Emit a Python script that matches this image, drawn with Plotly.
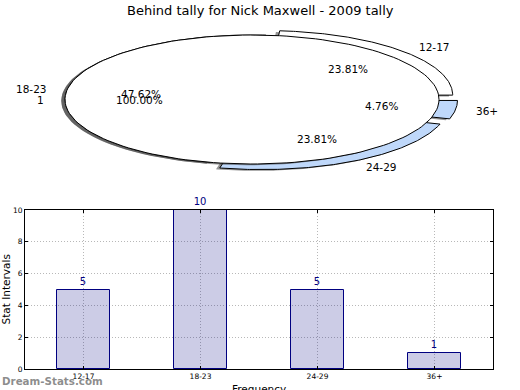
import numpy as np
import plotly.graph_objects as go

# ---------------- data ----------------
title_text = "Behind tally for Nick Maxwell - 2009 tally"
age_groups = ["12-17", "18-23", "24-29", "36+"]
frequency = [5, 10, 5, 1]
explode = [0.1, 0.0, 0.1, 0.1]
slice_colors = ["#ffffff", "#ffffff", "#bfd8fa", "#bfd8fa"]
overlay_labels = ["1"]
overlay_values = [1]
overlay_colors = ["#ffffff"]
y_ticks = [0, 2, 4, 6, 8, 10]
x_title = "Frequency"
y_title = "Stat Intervals"
watermark = "Dream-Stats.com"

# ---------------- layout geometry (pixels) ----------------
W, H = 520, 390
pie_cx, pie_cy, pie_rx, pie_ry = 252, 99.5, 187, 64.5
pie_top, pie_bot = 20, 192
bar_l, bar_r, bar_t, bar_b = 25, 493, 210, 369

FONT = "DejaVu Sans"
fig = go.Figure()


def wedge(theta1, theta2, center, r=1.0, n=160):
    t = np.radians(np.linspace(theta1, theta2, n))
    xs = center[0] + r * np.cos(t)
    ys = center[1] + r * np.sin(t)
    if theta2 - theta1 < 359.999:
        xs = np.concatenate([[center[0]], xs, [center[0]]])
        ys = np.concatenate([[center[1]], ys, [center[1]]])
    return xs, ys


annotations = []


def draw_pie(values, labels, colors, expl):
    total = float(sum(values))
    theta1 = 0.0
    for v, lab, col, e in zip(values, labels, colors, expl):
        frac = v / total
        theta2 = theta1 + frac * 360.0
        tm = np.radians((theta1 + theta2) / 2)
        c = (e * np.cos(tm), e * np.sin(tm))
        # shadow
        sx, sy = wedge(theta1, theta2, (c[0] - 0.02, c[1] - 0.02))
        fig.add_trace(go.Scatter(x=sx, y=sy, mode="lines", fill="toself",
                                 fillcolor="rgba(60,60,60,0.55)",
                                 line=dict(width=0), hoverinfo="skip",
                                 showlegend=False, xaxis="x2", yaxis="y2"))
        wx, wy = wedge(theta1, theta2, c)
        fig.add_trace(go.Scatter(x=wx, y=wy, mode="lines", fill="toself",
                                 fillcolor=col,
                                 line=dict(width=1, color="black"),
                                 hoverinfo="skip", showlegend=False,
                                 xaxis="x2", yaxis="y2"))
        lx = c[0] + 1.1 * np.cos(tm)
        ly = c[1] + 1.1 * np.sin(tm)
        annotations.append(dict(x=lx, y=ly, xref="x2", yref="y2", text=lab,
                                showarrow=False,
                                xanchor="left" if lx > 0 else "right",
                                yanchor="middle",
                                font=dict(size=10.5, color="black", family=FONT)))
        px = c[0] + 0.6 * np.cos(tm)
        py = c[1] + 0.6 * np.sin(tm)
        annotations.append(dict(x=px, y=py, xref="x2", yref="y2",
                                text="%.2f%%" % (frac * 100), showarrow=False,
                                xanchor="center", yanchor="middle",
                                font=dict(size=10.5, color="black", family=FONT)))
        theta1 = theta2


draw_pie(frequency, age_groups, slice_colors, explode)
draw_pie(overlay_values, overlay_labels, overlay_colors, [0.0])

# ---------------- bar chart ----------------
positions = list(range(len(age_groups)))
fig.add_trace(go.Bar(x=positions, y=frequency, width=0.45,
                     marker=dict(color="rgba(0,0,128,0.2)",
                                 line=dict(color="navy", width=1)),
                     text=[str(v) for v in frequency], textposition="outside",
                     textfont=dict(color="navy", size=10, family=FONT),
                     constraintext="none", cliponaxis=False,
                     hoverinfo="skip", showlegend=False,
                     xaxis="x", yaxis="y"))

xr = [-pie_cx / pie_rx, (W - pie_cx) / pie_rx]
yr = [-(pie_bot - pie_cy) / pie_ry, (pie_cy - pie_top) / pie_ry]

annotations += [
    dict(x=0.5, y=1 - 10 / H, xref="paper", yref="paper", text=title_text,
         showarrow=False, xanchor="center", yanchor="middle",
         font=dict(size=13, color="black", family=FONT)),
    dict(x=5 / W, y=1 - ((bar_t + bar_b) / 2) / H, xref="paper", yref="paper",
         text=y_title, textangle=-90, showarrow=False, xanchor="center",
         yanchor="middle", font=dict(size=10.5, color="black", family=FONT)),
    dict(x=((bar_l + bar_r) / 2) / W, y=1 - 389 / H, xref="paper",
         yref="paper", text=x_title, showarrow=False, xanchor="center",
         yanchor="middle", font=dict(size=10.5, color="black", family=FONT)),
    dict(x=0, y=1 - 381 / H, xref="paper", yref="paper",
         text="<b>" + watermark + "</b>", showarrow=False, xanchor="left",
         yanchor="middle",
         font=dict(size=10.3, color="rgba(120,120,120,0.85)", family=FONT)),
]

grid_kw = dict(showgrid=True, gridcolor="#b8b8b8", griddash="1px,2px",
               gridwidth=1, zeroline=False, automargin=False)

fig.update_layout(
    width=W, height=H,
    margin=dict(l=0, r=0, t=0, b=0, pad=0, autoexpand=False),
    paper_bgcolor="white", plot_bgcolor="rgba(0,0,0,0)",
    font=dict(family=FONT, color="black"),
    bargap=0, showlegend=False,
    annotations=annotations,
    xaxis2=dict(domain=[0, 1], range=xr, visible=False, fixedrange=True,
                anchor="y2", automargin=False),
    yaxis2=dict(domain=[1 - pie_bot / H, 1 - pie_top / H], range=yr,
                visible=False, fixedrange=True, anchor="x2", automargin=False),
    xaxis=dict(domain=[bar_l / W, bar_r / W], range=[-0.5, len(age_groups) - 0.5],
               tickvals=positions, ticktext=age_groups, anchor="y",
               showline=True, linecolor="black", linewidth=1, mirror="ticks",
               ticks="inside", ticklen=3, tickcolor="black", fixedrange=True,
               tickfont=dict(size=7.5, color="black"), **grid_kw),
    yaxis=dict(domain=[1 - bar_b / H, 1 - bar_t / H], range=[0, 10],
               tickvals=y_ticks, anchor="x",
               showline=True, linecolor="black", linewidth=1, mirror="ticks",
               ticks="inside", ticklen=3, tickcolor="black", fixedrange=True,
               tickfont=dict(size=7.5, color="black"), **grid_kw),
)

fig.write_html("out.html", config={"displayModeBar": False},
               post_script="document.body.style.margin='0';"
                           "document.body.style.overflow='hidden';")
